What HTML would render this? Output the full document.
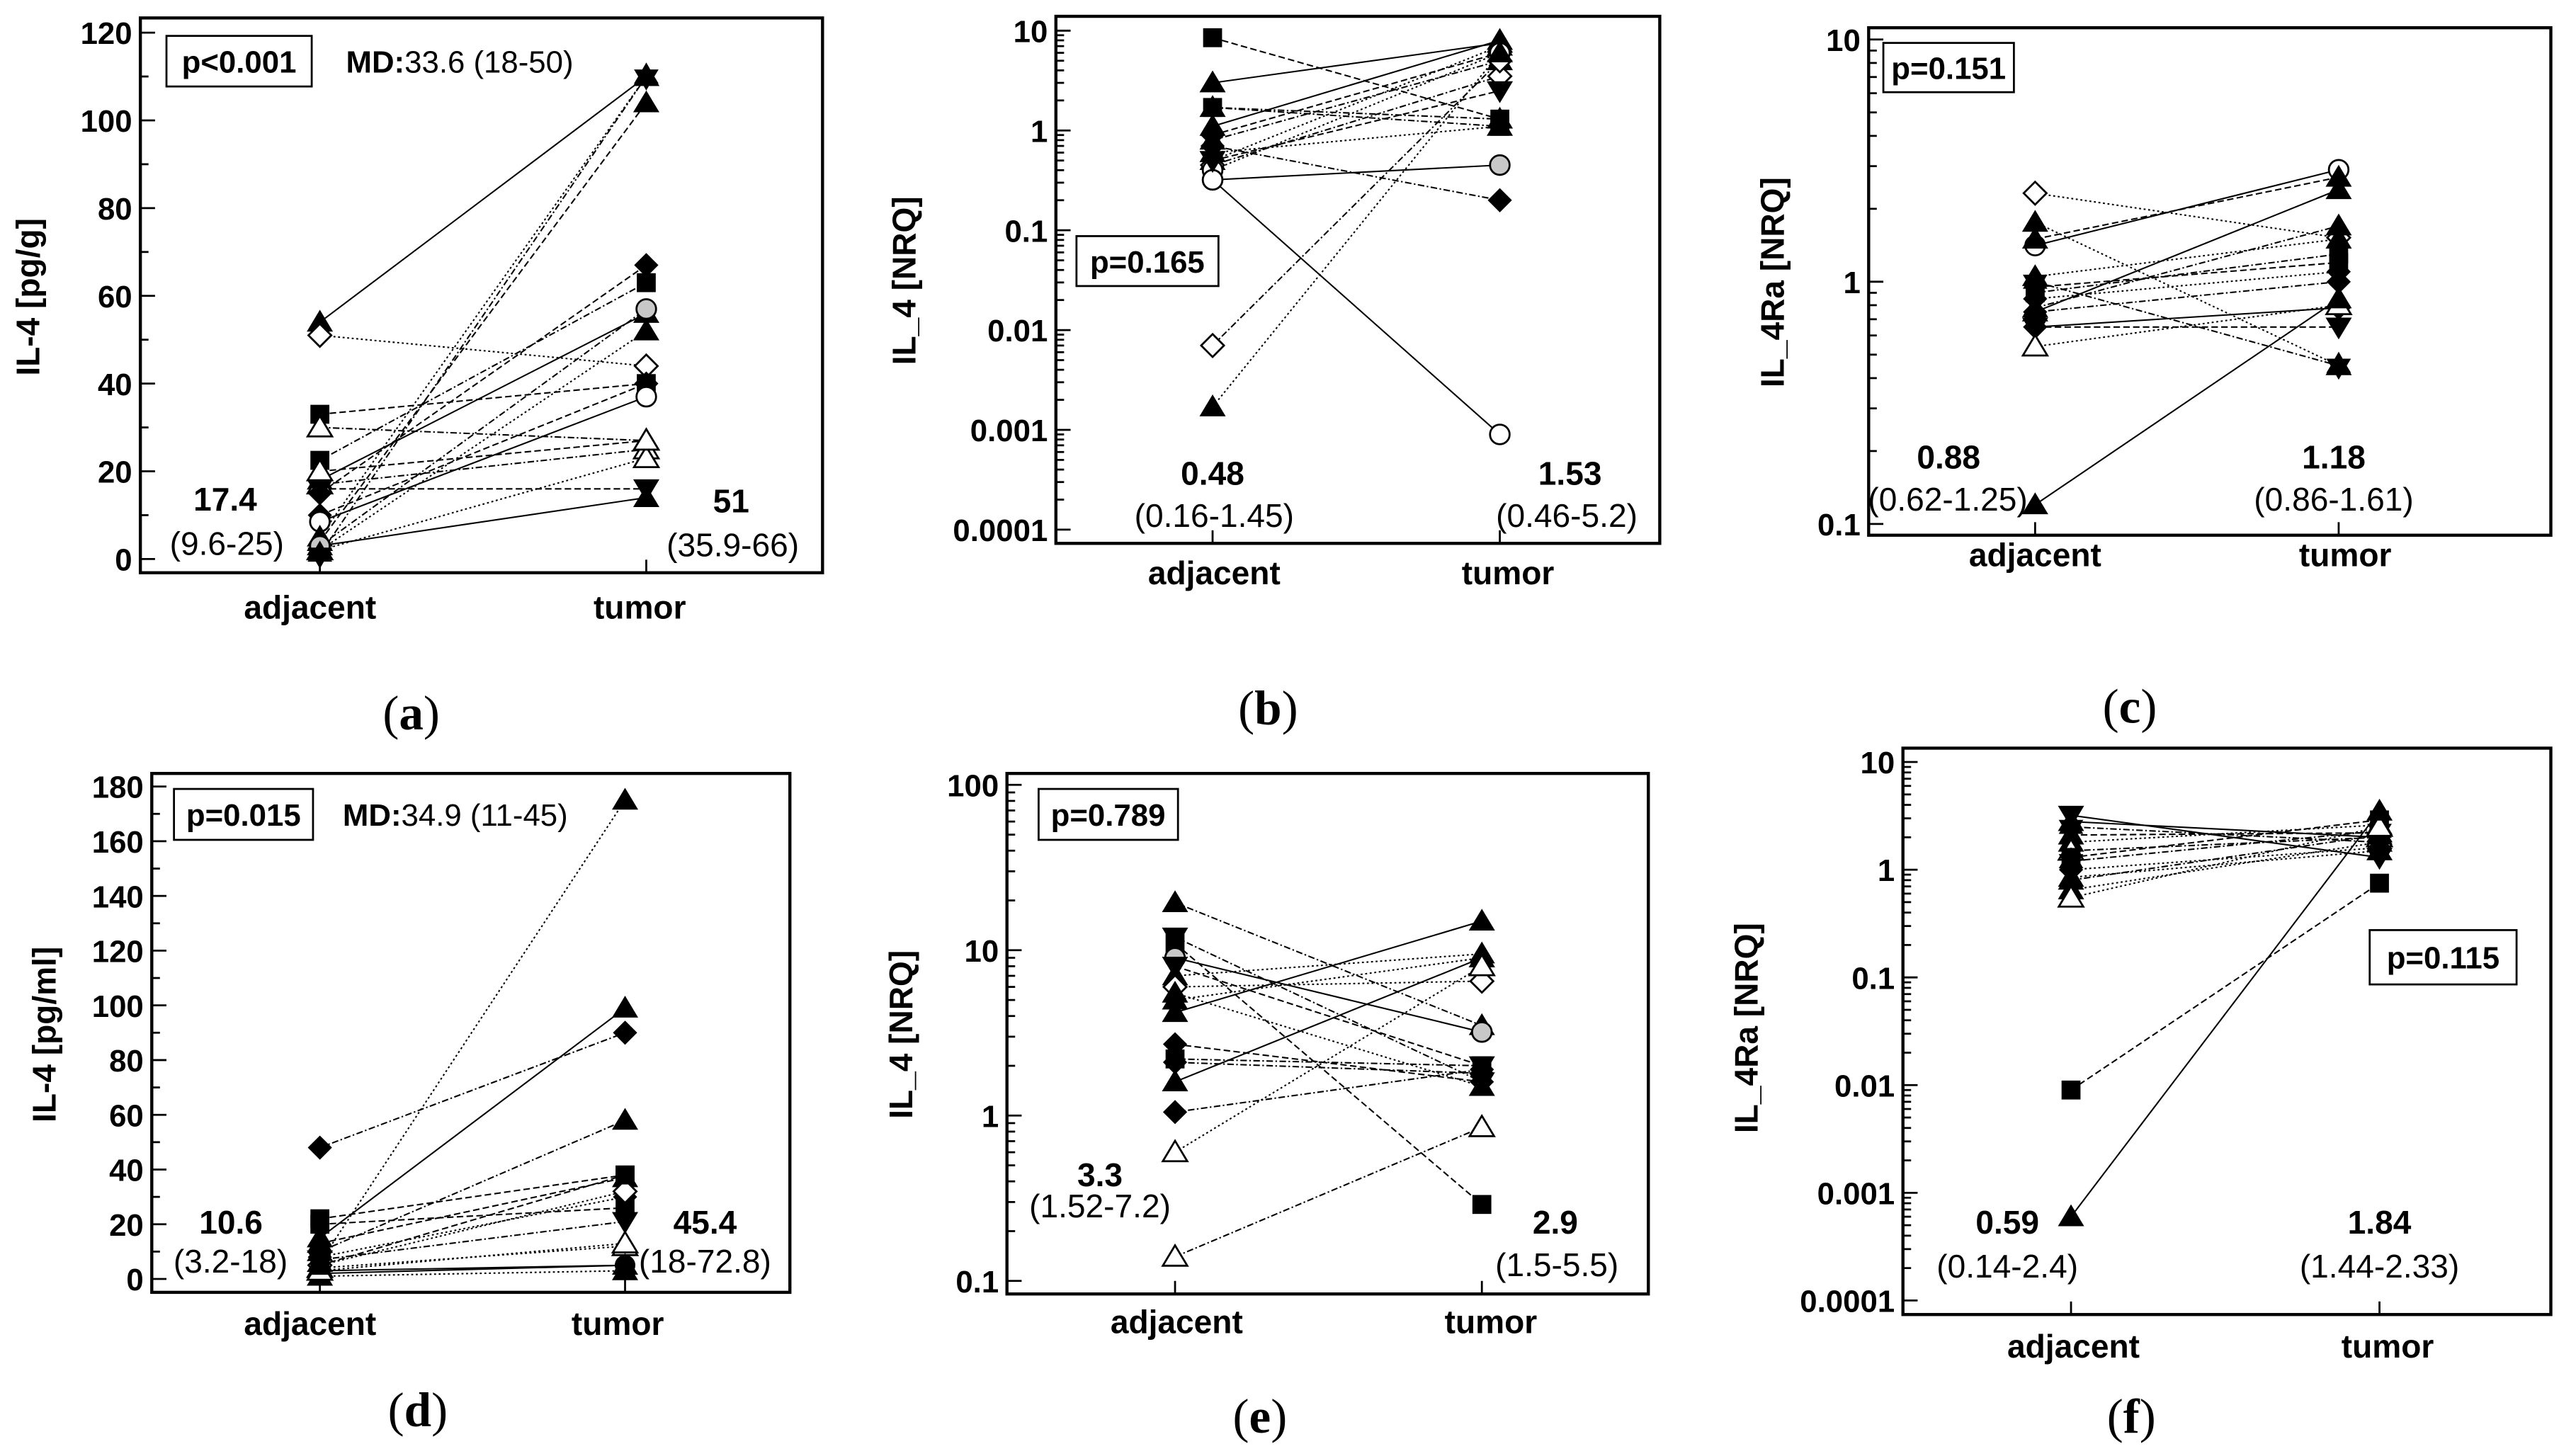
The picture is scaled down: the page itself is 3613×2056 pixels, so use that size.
<!DOCTYPE html>
<html><head><meta charset="utf-8"><title>IL-4 paired plots</title>
<style>
html,body{margin:0;padding:0;background:#fff;}
svg{display:block;}
text{font-family:"Liberation Sans",Arial,sans-serif;fill:#000;}
.b{font-weight:bold;}
.tk{font-size:19px;font-weight:bold;}
.cat{font-size:20px;font-weight:bold;}
.ttl{font-size:20px;font-weight:bold;}
.med{font-size:20px;font-weight:bold;}
.rng{font-size:20px;}
.pt{font-size:19px;font-weight:bold;}
.lab{font-family:"Liberation Serif","Times New Roman",serif;font-size:30px;}
</style></head>
<body>
<svg id="fig" xmlns="http://www.w3.org/2000/svg" width="3613" height="2056" viewBox="0 0 1568 892.3" preserveAspectRatio="none">
<rect x="0" y="0" width="1568" height="892.3" fill="#fff"/>
<g id="marks"></g>

<g>
<text class="ttl" transform="translate(24,182) rotate(-90)" text-anchor="middle">IL-4 [pg/g]</text>
<rect x="102" y="22" width="89" height="31" fill="#fff" stroke="#000" stroke-width="1.2"/>
<text class="pt" x="146.5" y="44.5" text-anchor="middle">p&lt;0.001</text>
<text x="212" y="44.5" style="font-size:19px"><tspan class="b">MD:</tspan>33.6 (18-50)</text>
<text class="med" x="138" y="313" text-anchor="middle">17.4</text>
<text class="rng" x="139" y="340" text-anchor="middle">(9.6-25)</text>
<text class="med" x="448" y="314" text-anchor="middle">51</text>
<text class="rng" x="449" y="341" text-anchor="middle">(35.9-66)</text>
<text class="cat" x="190" y="379" text-anchor="middle">adjacent</text>
<text class="cat" x="392" y="379" text-anchor="middle">tumor</text>
<text class="lab" x="252" y="447" text-anchor="middle">(<tspan font-weight="bold">a</tspan>)</text>
</g>

<g>
<text class="ttl" transform="translate(561,172) rotate(-90)" text-anchor="middle">IL_4 [NRQ]</text>
<rect x="659.6" y="144.7" width="87" height="30.6" fill="#fff" stroke="#000" stroke-width="1.2"/>
<text class="pt" x="703" y="167" text-anchor="middle">p=0.165</text>
<text class="med" x="743" y="297" text-anchor="middle">0.48</text>
<text class="rng" x="744" y="323" text-anchor="middle">(0.16-1.45)</text>
<text class="med" x="962" y="297" text-anchor="middle">1.53</text>
<text class="rng" x="960" y="323" text-anchor="middle">(0.46-5.2)</text>
<text class="cat" x="744" y="358" text-anchor="middle">adjacent</text>
<text class="cat" x="924" y="358" text-anchor="middle">tumor</text>
<text class="lab" x="777" y="444" text-anchor="middle">(<tspan font-weight="bold">b</tspan>)</text>
</g>

<g>
<text class="ttl" transform="translate(1093,173) rotate(-90)" text-anchor="middle">IL_4Ra [NRQ]</text>
<rect x="1154" y="26.3" width="80" height="30.2" fill="#fff" stroke="#000" stroke-width="1.2"/>
<text class="pt" x="1194" y="48.5" text-anchor="middle">p=0.151</text>
<text class="med" x="1194" y="287" text-anchor="middle">0.88</text>
<text class="rng" x="1193.5" y="313" text-anchor="middle">(0.62-1.25)</text>
<text class="med" x="1430" y="287" text-anchor="middle">1.18</text>
<text class="rng" x="1430" y="313" text-anchor="middle">(0.86-1.61)</text>
<text class="cat" x="1247" y="347" text-anchor="middle">adjacent</text>
<text class="cat" x="1437" y="347" text-anchor="middle">tumor</text>
<text class="lab" x="1305" y="443" text-anchor="middle">(<tspan font-weight="bold">c</tspan>)</text>
</g>

<g>
<text class="ttl" transform="translate(34,634) rotate(-90)" text-anchor="middle">IL-4 [pg/ml]</text>
<rect x="106.6" y="483.5" width="85.2" height="31.2" fill="#fff" stroke="#000" stroke-width="1.2"/>
<text class="pt" x="149.2" y="506" text-anchor="middle">p=0.015</text>
<text x="210" y="506" style="font-size:19px"><tspan class="b">MD:</tspan>34.9 (11-45)</text>
<text class="med" x="141.5" y="756" text-anchor="middle">10.6</text>
<text class="rng" x="141.3" y="780" text-anchor="middle">(3.2-18)</text>
<text class="med" x="432" y="756" text-anchor="middle">45.4</text>
<text class="rng" x="432" y="780" text-anchor="middle">(18-72.8)</text>
<text class="cat" x="190" y="818" text-anchor="middle">adjacent</text>
<text class="cat" x="378.5" y="818" text-anchor="middle">tumor</text>
<text class="lab" x="256" y="874" text-anchor="middle">(<tspan font-weight="bold">d</tspan>)</text>
</g>

<g>
<text class="ttl" transform="translate(559,634) rotate(-90)" text-anchor="middle">IL_4 [NRQ]</text>
<rect x="636.4" y="483.5" width="85.4" height="31.2" fill="#fff" stroke="#000" stroke-width="1.2"/>
<text class="pt" x="679" y="506" text-anchor="middle">p=0.789</text>
<text class="med" x="674" y="727" text-anchor="middle">3.3</text>
<text class="rng" x="674" y="746" text-anchor="middle">(1.52-7.2)</text>
<text class="med" x="953" y="756" text-anchor="middle">2.9</text>
<text class="rng" x="954" y="782" text-anchor="middle">(1.5-5.5)</text>
<text class="cat" x="721" y="817" text-anchor="middle">adjacent</text>
<text class="cat" x="913.5" y="817" text-anchor="middle">tumor</text>
<text class="lab" x="772" y="878" text-anchor="middle">(<tspan font-weight="bold">e</tspan>)</text>
</g>

<g>
<text class="ttl" transform="translate(1077,630) rotate(-90)" text-anchor="middle">IL_4Ra [NRQ]</text>
<rect x="1452" y="570" width="90" height="33.3" fill="#fff" stroke="#000" stroke-width="1.2"/>
<text class="pt" x="1497" y="593.5" text-anchor="middle">p=0.115</text>
<text class="med" x="1230" y="756" text-anchor="middle">0.59</text>
<text class="rng" x="1230" y="783" text-anchor="middle">(0.14-2.4)</text>
<text class="med" x="1458" y="756" text-anchor="middle">1.84</text>
<text class="rng" x="1458" y="783" text-anchor="middle">(1.44-2.33)</text>
<text class="cat" x="1270.5" y="832" text-anchor="middle">adjacent</text>
<text class="cat" x="1463" y="832" text-anchor="middle">tumor</text>
<text class="lab" x="1306" y="878" text-anchor="middle">(<tspan font-weight="bold">f</tspan>)</text>
</g>
</svg>

<script>
const aAdj = [54, 51, 33, 30, 22.5, 18, 17, 16, 15, 10, 8.5, 5, 4, 3, 2, 2, 3, 1, 20];
const aTum = [110, 44, 40, 27, 63, 56, 25, 16, 67, 40, 37, 110, 104, 14, 23, 52, 57, 110, 27];
const aMk = ['tri','odia','sq','otri','sq','tri','otri','dtri','dia','dia','ocirc','tri','tri','tri','otri','tri','gcirc','star','otri'];
const aLs = ['s','d','a','da','da','s','da','a','a','a','s','d','a','s','d','d','da','da','a'];
const aTicks = [0, 20, 40, 60, 80, 100, 120];
const aTickLabels = ['0','20','40','60','80','100','120'];

const bAdj = [8.5, 3, 1.7, 1.1, 0.9, 0.8, 0.7, 0.6, 0.5, 0.45, 0.4, 0.32, 0.32, 0.007, 0.0017, 0.5, 1.7];
const bTum = [1.3, 7.5, 1.3, 8, 6, 5, 0.2, 1.1, 7, 3.5, 6, 0.45, 0.0009, 5, 6, 2.5, 1.1];
const bMk = ['sq','tri','tri','tri','dia','tri','dia','tri','tri','odia','ocirc','gcirc','ocirc','odia','tri','dtri','sq'];
const bLs = ['a','s','da','s','a','da','da','d','d','da','d','s','s','da','d','a','da'];
const bTicks = [0.0001, 0.001, 0.01, 0.1, 1, 10];
const bTickLabels = ['0.0001','0.001','0.01','0.1','1','10'];

const cAdj = [2.32, 1.76, 1.41, 1.5, 1.05, 1.0, 0.9, 0.85, 0.78, 0.75, 0.75, 0.65, 0.65, 0.54, 0.12, 0.95];
const cTum = [1.52, 0.45, 2.9, 2.7, 1.5, 0.45, 1.3, 1.1, 1.7, 2.4, 1.0, 0.78, 0.65, 0.8, 0.85, 1.2];
const cMk = ['odia','tri','ocirc','tri','tri','star','sq','dia','tri','tri','dia','dia','dtri','otri','tri','sq'];
const cLs = ['d','d','s','a','d','da','da','d','da','s','da','s','a','d','s','a'];
const cTicks = [0.1, 1, 10];
const cTickLabels = ['0.1','1','10'];

const dAdj = [48, 22, 20, 15, 13, 10, 8, 7, 6, 5, 4, 3, 2, 1, 3, 5];
const dTum = [90, 38, 26, 99, 37, 58, 30, 21, 175, 32, 12, 5, 5, 3, 13, 38];
const dMk = ['dia','sq','sq','tri','tri','tri','dia','dtri','tri','odia','otri','tri','circ','tri','otri','sq'];
const dLs = ['da','a','a','s','a','da','d','da','d','d','d','s','s','d','d','a'];
const dTicks = [0, 20, 40, 60, 80, 100, 120, 140, 160, 180];
const dTickLabels = ['0','20','40','60','80','100','120','140','160','180'];

const eAdj = [19.4, 12, 11, 9, 8, 7, 6, 5.5, 5, 4.2, 2.7, 2.2, 2.1, 1.6, 1.05, 0.6, 0.14];
const eTum = [3.5, 1.6, 0.29, 3.2, 2, 9.5, 6.5, 1.5, 9, 15, 1.6, 2.0, 1.8, 9, 1.9, 8, 0.85];
const eMk = ['tri','dtri','sq','gcirc','dtri','tri','odia','tri','tri','tri','dia','sq','dia','tri','dia','otri','otri'];
const eLs = ['da','da','a','s','a','d','d','d','d','s','a','da','da','s','da','d','da'];
const eTicks = [0.1, 1, 10, 100];
const eTickLabels = ['0.1','1','10','100'];

const fAdj = [3.2, 2.8, 2.5, 2.1, 1.8, 1.5, 1.3, 1.2, 1.0, 0.85, 0.8, 0.65, 0.55, 0.009, 0.0006];
const fTum = [1.3, 2.0, 1.8, 2.2, 2.6, 2.0, 2.9, 2.3, 1.6, 1.5, 2.1, 1.8, 2.5, 0.75, 3.5];
const fMk = ['dtri','tri','star','tri','tri','otri','sq','star','dia','tri','tri','tri','otri','sq','tri'];
const fLs = ['s','s','da','a','d','da','a','da','d','d','da','d','d','a','s'];
const fTicks = [0.0001, 0.001, 0.01, 0.1, 1, 10];
const fTickLabels = ['0.0001','0.001','0.01','0.1','1','10'];

const NS = 'http://www.w3.org/2000/svg';
const root = document.getElementById('marks');
const dashes = {s: null, a: '4 2', d: '1.2 1.6', da: '4 1.5 1 1.5'};

function mk(tag, attrs, parent) {
  const el = document.createElementNS(NS, tag);
  for (const k in attrs) el.setAttribute(k, attrs[k]);
  (parent || root).appendChild(el);
  return el;
}
function linScale(v0, p0, v1, p1) {
  return v => p0 + (v - v0) * (p1 - p0) / (v1 - v0);
}
function logScale(v0, p0, v1, p1) {
  const l0 = Math.log10(v0), l1 = Math.log10(v1);
  return v => p0 + (Math.log10(v) - l0) * (p1 - p0) / (l1 - l0);
}

function marker(g, type, x, y, id) {
  const s = 7;
  let el;
  const open = type === 'otri' || type === 'odia' || type === 'ocirc';
  const fill = open ? '#fff' : (type === 'gcirc' ? '#c8c8c8' : '#000');
  const st = {fill: fill, stroke: '#000', 'stroke-width': open || type === 'gcirc' ? 1.2 : 0.6};
  if (type === 'tri' || type === 'otri') {
    el = mk('polygon', Object.assign({points: `${x},${y - s} ${x - 7.5},${y + 5.5} ${x + 7.5},${y + 5.5}`}, st), g);
  } else if (type === 'dtri') {
    el = mk('polygon', Object.assign({points: `${x},${y + s} ${x - 7.5},${y - 5.5} ${x + 7.5},${y - 5.5}`}, st), g);
  } else if (type === 'sq') {
    el = mk('rect', Object.assign({x: x - 5.5, y: y - 5.5, width: 11, height: 11}, st), g);
  } else if (type === 'dia' || type === 'odia') {
    el = mk('polygon', Object.assign({points: `${x},${y - s} ${x + s},${y} ${x},${y + s} ${x - s},${y}`}, st), g);
  } else if (type === 'star') {
    el = mk('polygon', Object.assign({points: `${x},${y - 8} ${x + 2.3},${y - 4} ${x + 7},${y - 4} ${x + 4.6},${y} ${x + 7},${y + 4} ${x + 2.3},${y + 4} ${x},${y + 8} ${x - 2.3},${y + 4} ${x - 7},${y + 4} ${x - 4.6},${y} ${x - 7},${y - 4} ${x - 2.3},${y - 4}`}, st), g);
  } else {
    el = mk('circle', Object.assign({cx: x, cy: y, r: 6}, st), g);
  }
  
  
}

function drawPanel(P, adj, tum, mks, lss, ticks, tickLabels) {
  const g = mk('g', {});
  
  
  const y = P.log ? logScale(P.v0, P.p0, P.v1, P.p1) : linScale(P.v0, P.p0, P.v1, P.p1);

  const tg = mk('g', {stroke: '#000', 'stroke-width': 1.2}, g);
  
  
  ticks.forEach((t, i) => {
    const yy = y(t);
    const tl = mk('line', {x1: P.L, x2: P.L + 9, y1: yy, y2: yy}, tg);
    
    
    const tx = mk('text', {x: P.L - 5, y: yy + 7, 'text-anchor': 'end', class: 'tk', stroke: 'none'}, g);
    tx.textContent = tickLabels[i];
    
    
    if (P.log && i < ticks.length - 1) {
      for (let m = 2; m <= 9; m++) {
        const my = y(t * m);
        const ml = mk('line', {x1: P.L, x2: P.L + 5, y1: my, y2: my}, tg);
        
        
      }
    }
    if (!P.log && i < ticks.length - 1) {
      const my = y((t + ticks[i + 1]) / 2);
      const ml = mk('line', {x1: P.L, x2: P.L + 5, y1: my, y2: my}, tg);
      
      
    }
  });
  [P.xa, P.xt].forEach(xx => {
    const cl = mk('line', {x1: xx, x2: xx, y1: P.B, y2: P.B - 8}, tg);
    
    
  });

  const lg = mk('g', {fill: 'none', stroke: '#000', 'stroke-width': 0.9}, g);
  
  
  adj.forEach((v, i) => {
    const ln = mk('line', {x1: P.xa, y1: y(v), x2: P.xt, y2: y(tum[i])}, lg);
    if (dashes[lss[i]]) ln.setAttribute('stroke-dasharray', dashes[lss[i]]);
    
    
  });
  adj.forEach((v, i) => {
    marker(g, mks[i], P.xa, y(v), 'point-adjacent-' + P.id + '-' + i);
    marker(g, mks[i], P.xt, y(tum[i]), 'point-tumor-' + P.id + '-' + i);
  });

  const fr = mk('rect', {x: P.L, y: P.T, width: P.R - P.L, height: P.B - P.T, fill: 'none', stroke: '#000', 'stroke-width': 1.9}, g);
  
  
}

drawPanel({id: 'a', L: 86, T: 11, R: 504, B: 351, xa: 196, xt: 396, log: false, v0: 0, p0: 342.6, v1: 120, p1: 20},
  aAdj, aTum, aMk, aLs, aTicks, aTickLabels);
drawPanel({id: 'b', L: 647, T: 10, R: 1017, B: 333, xa: 743, xt: 919, log: true, v0: 0.0001, p0: 324.6, v1: 10, p1: 18.8},
  bAdj, bTum, bMk, bLs, bTicks, bTickLabels);
drawPanel({id: 'c', L: 1145, T: 17, R: 1563, B: 328, xa: 1247, xt: 1433, log: true, v0: 0.1, p0: 321.1, v1: 10, p1: 24.2},
  cAdj, cTum, cMk, cLs, cTicks, cTickLabels);
drawPanel({id: 'd', L: 93, T: 474, R: 484, B: 792, xa: 196, xt: 383, log: false, v0: 0, p0: 783.8, v1: 180, p1: 482},
  dAdj, dTum, dMk, dLs, dTicks, dTickLabels);
drawPanel({id: 'e', L: 617, T: 474, R: 1010, B: 793, xa: 720, xt: 908, log: true, v0: 0.1, p0: 785, v1: 100, p1: 481},
  eAdj, eTum, eMk, eLs, eTicks, eTickLabels);
drawPanel({id: 'f', L: 1166, T: 458.5, R: 1563, B: 805.6, xa: 1269, xt: 1458, log: true, v0: 0.0001, p0: 797, v1: 10, p1: 467},
  fAdj, fTum, fMk, fLs, fTicks, fTickLabels);
</script>
</body></html>
